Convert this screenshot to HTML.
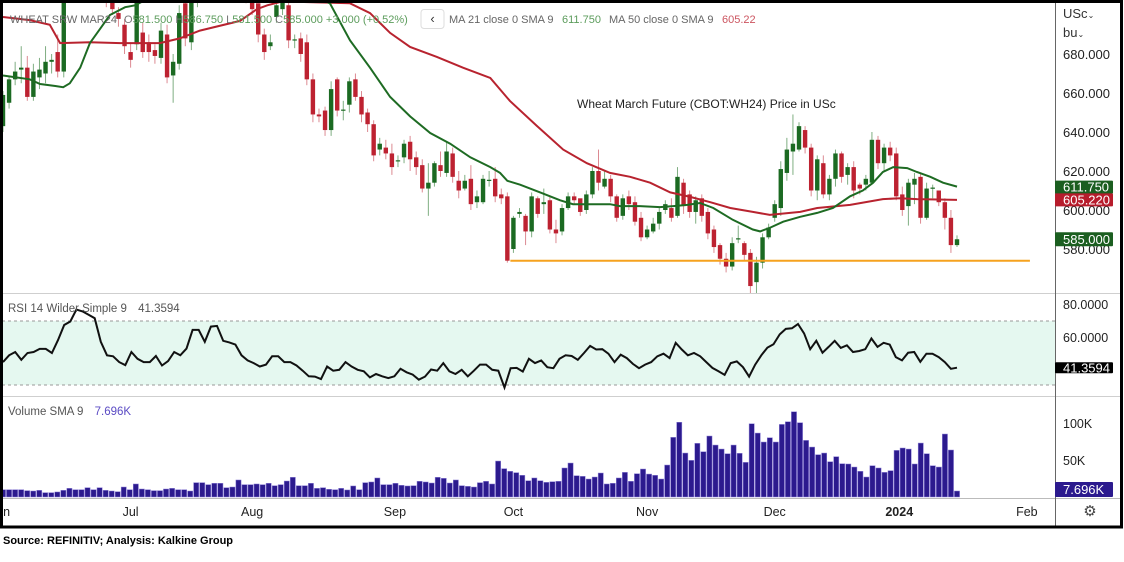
<!DOCTYPE html>
<html><head><meta charset="utf-8">
<style>
body{margin:0;width:1124px;height:557px;background:#fff;overflow:hidden;font-family:"Liberation Sans",sans-serif}
svg text{font-family:"Liberation Sans",sans-serif}
</style></head>
<body>
<svg id="chart" width="1124" height="557" xmlns="http://www.w3.org/2000/svg">
<defs>
<clipPath id="pclip"><rect x="2" y="3" width="1053" height="290"/></clipPath>
<clipPath id="rclip"><rect x="2" y="294" width="1053" height="102"/></clipPath>
</defs>
<rect x="0" y="0" width="1124" height="557" fill="#fff"/>
<rect x="2" y="321" width="1053" height="64" fill="#e5f8f0"/>
<line x1="2" y1="321" x2="1055" y2="321" stroke="#999" stroke-dasharray="3,3"/>
<line x1="2" y1="385" x2="1055" y2="385" stroke="#999" stroke-dasharray="3,3"/>
<line x1="2" y1="293.5" x2="1121" y2="293.5" stroke="#cfcfcf"/>
<line x1="2" y1="396.5" x2="1121" y2="396.5" stroke="#cfcfcf"/>
<line x1="2" y1="498.5" x2="1121" y2="498.5" stroke="#bbb"/>
<line x1="1055.5" y1="3" x2="1055.5" y2="526" stroke="#666"/>
<g id="price" clip-path="url(#pclip)"></g>
<g id="rsi" clip-path="url(#rclip)"></g>
<g id="vol"></g>
<g id="axis"></g>
<g font-size="11">
<text x="10" y="23" fill="#666">WHEAT SRW MAR24</text>
<text x="124" y="23" fill="#5c9c5c"><tspan fill="#777">O</tspan>581.500 <tspan fill="#777">H</tspan>586.750 <tspan fill="#777">L</tspan>581.500 <tspan fill="#777">C</tspan>585.000 +3.000 (+0.52%)</text>
<rect x="421" y="9.5" width="23" height="19" rx="3" fill="#fff" stroke="#ddd"/>
<text x="432.5" y="23" fill="#333" text-anchor="middle" font-size="13">‹</text>
<text x="449" y="23" fill="#666">MA 21 close 0 SMA 9</text>
<text x="562" y="23" fill="#5c9c5c">611.750</text>
<text x="609" y="23" fill="#666">MA 50 close 0 SMA 9</text>
<text x="722" y="23" fill="#cc5560">605.22</text>
</g>
<text x="577" y="108" font-size="12" fill="#222">Wheat March Future (CBOT:WH24) Price in USc</text>
<text x="8" y="312" font-size="11.5" fill="#555">RSI 14 Wilder Simple 9 <tspan dx="8">41.3594</tspan></text>
<text x="8" y="415" font-size="11.5" fill="#555">Volume SMA 9 <tspan dx="8" fill="#5b4bc4">7.696K</tspan></text>
<text x="1063" y="18" font-size="13" fill="#333">USc<tspan font-size="8">⌄</tspan></text>
<text x="1063" y="37" font-size="13" fill="#333">bu<tspan font-size="8">⌄</tspan></text>
<text x="1090" y="516" font-size="15" fill="#444" text-anchor="middle">⚙</text>
<rect x="1.5" y="1.5" width="1120" height="525.5" fill="none" stroke="#000" stroke-width="3"/>
<text x="3" y="544" font-size="11" font-weight="bold" fill="#000">Source: REFINITIV; Analysis: Kalkine Group</text>
</svg>
<script>
const opens=[643,655,667,672,673,658,668,670,676,681,671,712,718,722,716,724,720,712,708,701,695,681,685,691,686,682,678,690,669,675,706,686,708,712,718,722,716,720,726,718,714,712,706,690,684,699,703,705,687,688,686,667,649,651,641,667,651,654,667,658,650,644,631,632,629,625,627,635,627,623,611,614,623,619,629,615,611,616,604,604,615,616,608,607,580,598,597,589,606,603,605,590,589,601,607,606,600,608,620,612,616,607,597,607,604,596,586,589,593,600,601,597,614,608,599,606,599,590,582,575,571,585,583,578,563,573,586,596,601,619,630,631,641,632,610,624,608,616,629,618,622,613,613,614,636,624,632,629,608,602,613,617,596,611,610,604,596,582];
const closes=[659,667,671,673,658,671,672,676,677,671,712,718,722,716,724,720,712,708,703,698,684,677,710,681,681,679,692,668,676,701,688,708,712,718,722,716,720,726,718,714,712,703,690,681,686,705,708,687,687.5,680,667,649,648,641,662,651,651.5,666,658,649,644,628,634,629,622,625.5,634,626,622,611,614,624,620,630,617,610,615,603,607,616,615.5,607,606,574,596,599,589,607,598,604,590,588,601,607,605,599,608,620,614,616,607,596,606,603,594,586,590,593,599,603,596,617,602,599,605,597,588,581,575,571,583,585.5,577,561,573,586,591,603,621,631,634,643,632,610,626,608,616,629,617,622,610,611,616,636,624,632,628,607,600,614,616,596,611,611.5,604,596,582,585];
const highs=[661,669,676,684,679,675,678,684,680,690,715,722,726,726,728,727,724,712,712,704,698,686,714,696,690,685,696,695,680,705,710,712,716,722,726,724,724,730,730,722,718,710,706,693,690,708,712,710,690,691,690,670,652,653,666,668,656,668,670,661,652,646,637,636,634,628,636,638,630,626,624,625,630,635,632,620,618,623,610,618,620,622,611,609,597,601,598,609,607,611,607,595,603,609,609,605,610,622,631,620,618,608,608,610,607,599,592,596,601,605,606,622,616,610,607,608,601,592,583,578,586,592,584,580,576,588,593,605,625,637,649,645,643,634,628,628,618,631,630,624,625,614,618,640,638,634,635,632,612,616,619,619,614,613,608,606,600,587];
const lows=[640,652,664,665,656,656,662,665,670,668,668,708,714,712,712,716,708,704,700,694,680,673,682,678,676,675,675,665,655,672,684,682,704,708,714,710,712,716,712,708,706,700,686,677,682,696,700,683,683,676,664,645,645,638,638,648,646,650,656,645,640,625,628,626,618,622,624,620,618,609,597,612,617,617,614,606,610,600,601,603,612,604,603,573,578,596,582,586,596,598,588,583,587,600,603,597,598,606,610,611,604,594,595,600,592,584,585,588,590,598,594,596,598,596,593,594,585,578,572,568,569,583,574,557,555,570,585,594,597,615,618,630,629,607,605,606,605,612,614,613,606,608,610,613,621,620,625,605,597,592,603,593,595,606,602,590,578,581];
const ma21Idx=[0,4.4,6.1,8.6,9.9,11,12.7,14.3,16,17.6,20.1,21.7,30,40,48,53.8,57.1,60.4,63.7,67,70.3,73.6,76.9,80.2,81.8,83,85.1,88.4,91.7,93.8,97.1,99.9,101.5,104.8,108.1,110.3,112.6,114.7,116.9,120.1,123.4,124.6,126.3,128.4,131.2,134,136.6,139.4,141.5,143.2,144.8,146.5,148.8,150.4,152.6,154.7,157];
const ma21Val=[669,667,664.6,663.6,663,665,673,685.6,693,700,704,705,718,722,714,706,687,673,658,648,639.5,634,627,622,619,615,613,609,605,603,603,603,602,602,601.5,602,602.6,603.6,601,595,590,589,591,594,596.5,598.5,601,607,610,614,619.5,622,621.5,619.5,617,614,612];
const ma50Idx=[0,4.4,7.7,9.4,14.3,19.3,25.8,29.1,32.4,39,41.8,43.5,46,57.1,60.4,63.7,67,71.4,75.7,80.2,83.4,87.9,92.2,96.1,99.9,103.2,106.5,109.8,113.1,116.4,119.7,123.4,126.2,131.2,134,139.4,144.8,147.6,150.4,157];
const ma50Val=[699,697.4,695,685.6,686,685.6,685.6,688,692,697,703,705,707,706,701,690.8,683.6,678.5,673,667.7,656,643,631,624,619,617,614,609,606.7,604,601,599,597.5,599,601,602.6,605.6,606,605.6,605.2];
const rsiVals=[44.8,48.9,50.9,46.2,50.3,50.9,52.8,52.8,50.3,58.1,67.3,69.4,76.6,75.5,73.5,71.4,57.1,48.9,48.3,44.8,42.9,50.9,46.8,44.8,44.8,48.5,42.7,45.4,50.9,48.9,53.0,64.3,64.3,57.1,66.3,66.7,57.7,56.7,55.4,48.9,45.8,44.2,42.1,43.3,48.3,48.3,44.8,44.8,42.7,39.6,36.2,36.0,34.5,42.1,39.6,40.1,44.8,42.1,40.1,39.2,35.5,37.6,36.2,35.1,36.2,40.7,38.6,37.2,34.1,36.0,40.3,39.6,44.2,39.2,37.6,40.1,36.2,39.6,43.3,43.3,40.1,39.6,29.4,41.1,41.3,39.0,46.8,44.2,45.8,41.7,41.1,46.8,48.9,48.5,46.2,50.3,54.6,52.4,52.6,49.9,44.8,49.3,47.2,43.7,41.1,43.3,44.8,48.3,49.9,47.2,56.5,52.4,48.9,50.3,48.3,44.8,41.3,39.2,37.0,44.2,45.2,41.7,36.0,43.3,48.9,53.6,55.6,61.6,64.9,65.3,67.9,62.2,52.6,57.7,50.5,54.0,57.7,53.4,55.0,50.9,51.5,52.6,59.1,54.0,56.5,55.4,47.8,45.8,50.5,50.9,45.0,49.9,49.9,47.8,44.8,40.7,41.4];
const volK=[9.9,9.9,9.9,9.9,8.6,8.1,9,5.9,5.9,6.8,9,11.7,9.9,9.9,12.6,9.9,12.6,9,8.1,7.2,13.5,9.9,17.6,10.8,9.9,8.6,8.6,10.8,11.7,9.9,9.9,8.1,19.4,19.4,16.7,18.5,18.5,12.6,13.5,23,16.7,16.7,17.6,16.7,18.5,15.3,16.7,21.6,26.6,15.3,15.3,18.5,11.7,12.6,10.4,9.9,11.7,9.5,14.9,9.9,19.4,20.3,25.7,16.7,16.7,18.5,15.8,14.9,15.3,21.2,20.3,18.9,26.6,25.2,18.9,23,15.3,14.4,13.5,19.4,21.2,17.6,48.6,38.3,34.7,32.9,29.3,22,25.7,22,19.8,20.7,21.2,39.2,45.9,28.8,27.9,24.3,27,32.4,17.6,18.5,25.7,33.3,21.2,31.5,37.8,31,29.3,24.3,43.2,80.6,101,59.4,49.5,72.5,61.2,82.4,70.2,64.8,58.5,70.2,59,46.8,99,86.4,74.3,80.1,74.3,98.1,101.7,115.2,100.4,76.5,67.5,57.2,59.4,47.7,54.5,45,44.6,40.5,34.7,27,42.3,39.2,33.3,35.6,63,66.2,64.8,44.6,72.9,58.5,42.3,40.5,85.1,63.5,8.1];
const priceTicks=[680,660,640,620,600,580];
const rsiTicks=[80,60];
const volTicks=[100,50];
const monthLabels=["Jun","Jul","Aug","Sep","Oct","Nov","Dec","2024","Feb"];
const monthIdx=[-0.5,21,41,64.5,84,106,127,147.5,168.5];
const supportLevel=574;
const supportRange=[83.5,169];

const NS="http://www.w3.org/2000/svg";
const X0=3, XN=957;
function xIdx(i,n){return X0+i*(XN-X0)/(n-1);}
function xC(i){return xIdx(i,opens.length);}
function yP(p){return 54+(680-p)*1.95;}
function yR(v){return 304+(80-v)*1.65;}
function yV(k){return 497-k*0.74;}
function mk(tag,attrs,parent){const e=document.createElementNS(NS,tag);for(const k in attrs)e.setAttribute(k,attrs[k]);parent.appendChild(e);return e;}

const gP=document.getElementById('price');
for(let i=0;i<opens.length;i++){
  const up=closes[i]>=opens[i];
  const col=up?'#1b6a22':'#bd2231';
  const x=xC(i);
  const g=mk('g',{},gP);
  
  
  mk('line',{x1:x,x2:x,y1:yP(highs[i]),y2:yP(lows[i]),stroke:up?'#7fae82':'#dc8a92','stroke-width':1},g);
  const t=yP(Math.max(opens[i],closes[i])), b=yP(Math.min(opens[i],closes[i]));
  mk('rect',{x:x-2.2,y:t,width:4.4,height:Math.max(1.2,b-t),fill:col},g);
}
function line(idx,vals,n,col,name){
  let d='';
  for(let k=0;k<idx.length;k++){d+=(k?'L':'M')+xIdx(idx[k],n).toFixed(1)+' '+yP(vals[k]).toFixed(1);}
  const p=mk('path',{d:d,fill:'none',stroke:col,'stroke-width':2},gP);
  
  
}
line(ma50Idx,ma50Val,opens.length,'#b8232f','ma50-line');
line(ma21Idx,ma21Val,opens.length,'#1e6b23','ma21-line');
const sup=mk('line',{x1:xC(supportRange[0]),x2:xC(supportRange[1]),y1:yP(supportLevel),y2:yP(supportLevel),stroke:'#f6a21e','stroke-width':2},gP);



const gR=document.getElementById('rsi');
let d='';
for(let i=0;i<rsiVals.length;i++){d+=(i?'L':'M')+xIdx(i,rsiVals.length).toFixed(1)+' '+yR(rsiVals[i]).toFixed(1);}
const rl=mk('path',{d:d,fill:'none',stroke:'#111','stroke-width':2},gR);



const gV=document.getElementById('vol');
for(let i=0;i<volK.length;i++){
  const x=xIdx(i,volK.length);
  const r=mk('rect',{x:x-2.6,y:yV(volK[i]),width:5.2,height:497-yV(volK[i]),fill:'#2c1a8e',stroke:'#8d80d6','stroke-width':0.5},gV);
  
  
}

const gA=document.getElementById('axis');
priceTicks.forEach(p=>{
  const t=mk('text',{x:1063,y:yP(p)+5,'font-size':13,fill:'#222'},gA);
  t.textContent=p.toFixed(3);
  
  
});
rsiTicks.forEach(v=>{
  const t=mk('text',{x:1063,y:yR(v)+5,'font-size':12.5,fill:'#222'},gA);
  t.textContent=v.toFixed(4);
  
  
});
volTicks.forEach(v=>{
  const t=mk('text',{x:1063,y:yV(v)+5,'font-size':12.5,fill:'#222'},gA);
  t.textContent=v+'K';
  
  
});
monthLabels.forEach((m,k)=>{
  const t=mk('text',{x:xC(monthIdx[k]),y:516,'font-size':12.5,fill:'#222','text-anchor':'middle','font-weight':m==='2024'?'bold':'normal'},gA);
  t.textContent=m;
  
  
});
function badge(yc,h,bg,txt,name){
  const g=mk('g',{},gA);
  
  
  mk('rect',{x:1055,y:yc-h/2,width:58,height:h,fill:bg,rx:1},g);
  const t=mk('text',{x:1063,y:yc+4.5,'font-size':13,fill:'#fff'},g);
  t.textContent=txt;
}
badge(yP(611.75),13,'#1b5e20','611.750','ma21-price-badge');
badge(yP(605.22),13,'#b71c2c','605.220','ma50-price-badge');
badge(yP(585),14,'#1b5e20','585.000','last-price-badge');
badge(yR(41.3594),11,'#000','41.3594','rsi-value-badge');
badge(489.5,15,'#2c1a8e','7.696K','volume-value-badge');
</script>
</body></html>
